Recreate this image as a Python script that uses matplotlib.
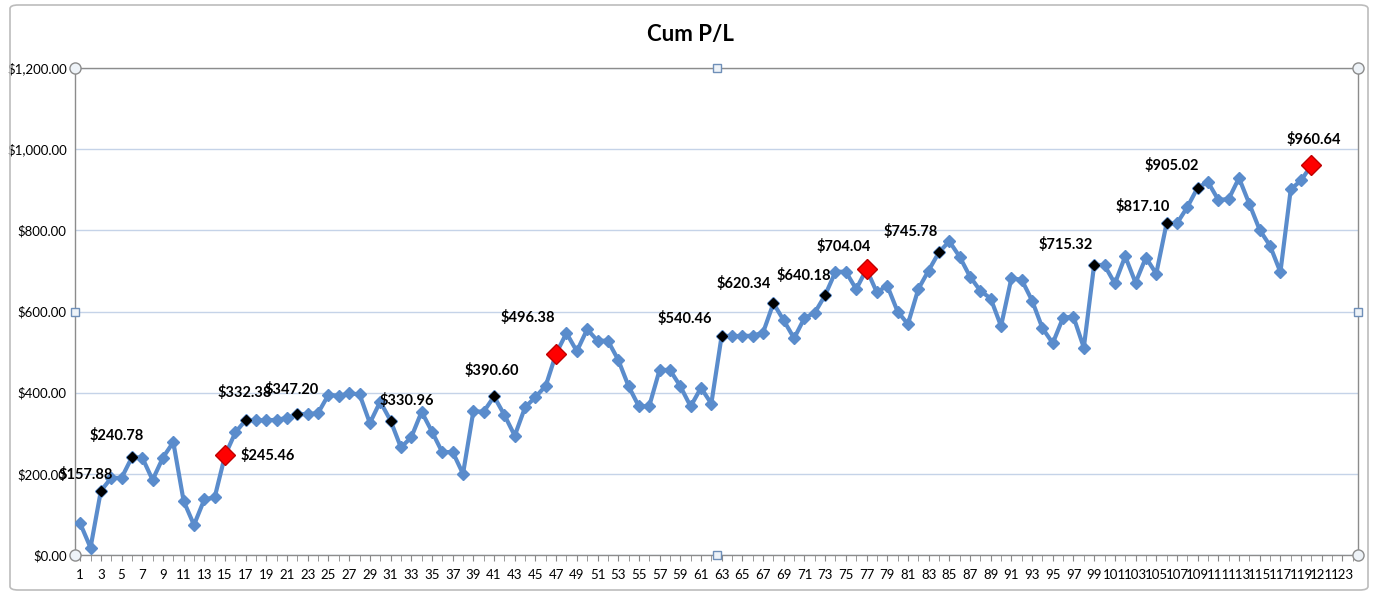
"""Cumulative P/L line chart, Excel style, with highlighted trades."""
import matplotlib
matplotlib.use("Agg")
import matplotlib.pyplot as plt
from matplotlib.patches import FancyBboxPatch
from matplotlib.ticker import FuncFormatter

plt.rcParams["font.family"] = ["Lato", "DejaVu Sans"]

# cumulative P/L per trade
cum_pl = [
    78, 18, 157.88, 190, 190, 240.78, 240, 185, 240, 278,
    133, 74, 137, 142, 245.46, 302, 332.38, 332, 332, 333,
    338, 347.20, 347, 350, 395, 392, 398, 396, 325, 378,
    330.96, 265, 290, 353, 304, 253, 254, 200, 354, 353,
    390.60, 345, 294, 364, 389, 417, 496.38, 547, 502, 556,
    528, 528, 481, 416, 366, 367, 456, 456, 416, 366,
    412, 373, 540.46, 539, 540, 540, 548, 620.34, 578, 534,
    584, 597, 640.18, 698, 698, 655, 704.04, 647, 664, 600,
    569, 655, 701, 745.78, 773, 735, 686, 651, 632, 564,
    682, 678, 627, 559, 522, 585, 587, 511, 715.32, 714,
    669, 736, 671, 733, 693, 817.10, 817, 857, 905.02, 919,
    875, 877, 929, 865, 801, 762, 697, 901, 923, 960.64,
]
trade_no = list(range(1, len(cum_pl) + 1))
n_categories = 124

# labelled points: black = small marker, red = large marker
black_pts = [3, 6, 17, 22, 31, 41, 63, 68, 73, 84, 99, 106, 109]
red_pts = [15, 47, 77, 120]

# label offsets in pixels (dx, dy)
label_offsets = {
    3: (-15, 16), 6: (-15, 22), 15: (43, 0), 17: (-1, 28), 22: (-6, 25),
    31: (16, 20), 41: (-2, 26), 47: (-28, 36), 63: (-37, 17),
    68: (-30, 20), 73: (-21, 20), 77: (-23, 23), 84: (-28, 21),
    99: (-28, 20), 106: (-24, 17), 109: (-26, 22), 120: (2, 26),
}

LINE = "#5a8ccc"

fig = plt.figure(figsize=(13.79, 6.08), dpi=100)
fig.patches.append(FancyBboxPatch((10 / 1379, 18 / 608), 1358 / 1379, 585 / 608,
                                  boxstyle="round,pad=0,rounding_size=0.006",
                                  transform=fig.transFigure, fill=False,
                                  edgecolor="#bcbcbc", linewidth=1.2))
ax = fig.add_axes([75 / 1379, 1 - 555 / 608, (1358 - 75) / 1379, (555 - 68) / 608])

ax.plot(trade_no, cum_pl, color=LINE, linewidth=3, marker="D",
        markersize=6, markerfacecolor=LINE, markeredgecolor=LINE, zorder=3)

ax.plot(black_pts, [cum_pl[t - 1] for t in black_pts], "D", color="black",
        markersize=5, zorder=4)
ax.plot(red_pts, [cum_pl[t - 1] for t in red_pts], "D", color="red",
        markersize=10, markeredgecolor="#c00000", zorder=4)

for t in black_pts + red_pts:
    dx, dy = label_offsets[t]
    ax.annotate(f"${cum_pl[t - 1]:,.2f}", (t, cum_pl[t - 1]), xytext=(dx, dy),
                textcoords="offset pixels", ha="center", va="center",
                fontsize=10.5, fontweight="bold", color="black", zorder=5)

ax.set_xlim(0.5, n_categories + 0.5)
ax.set_ylim(0, 1200)
ax.set_yticks(range(0, 1201, 200))
ax.yaxis.set_major_formatter(FuncFormatter(lambda v, p: f"${v:,.2f}"))
ax.set_xticks(range(1, n_categories, 2))
ax.set_xticks(range(1, n_categories + 1), minor=True)
ax.tick_params(axis="x", which="both", direction="out", length=4, color="#888888",
               labelsize=9.5, pad=6)
ax.tick_params(axis="y", direction="out", length=0, labelsize=9.5, pad=6)
ax.grid(axis="y", color="#c5d3e8", linewidth=1)
ax.set_axisbelow(True)
for s in ax.spines.values():
    s.set_color("#8c8c8c")
    s.set_linewidth(1)

# plot-area selection handles
for hx, hy in [(0, 0), (1, 0), (0, 1), (1, 1)]:
    ax.plot(hx, hy, "o", transform=ax.transAxes, markersize=8, markerfacecolor="#eef3f8",
            markeredgecolor="#8c8c8c", clip_on=False, zorder=6)
for hx, hy in [(0.5, 0), (0.5, 1), (0, 0.5), (1, 0.5)]:
    ax.plot(hx, hy, "s", transform=ax.transAxes, markersize=6, markerfacecolor="#eef3f8",
            markeredgecolor="#6f8fb8", clip_on=False, zorder=6)

fig.text(690 / 1379, 1 - 35 / 608, "Cum P/L", ha="center", va="center",
         fontsize=16, fontweight="bold")

fig.savefig("out.png", dpi=100)
